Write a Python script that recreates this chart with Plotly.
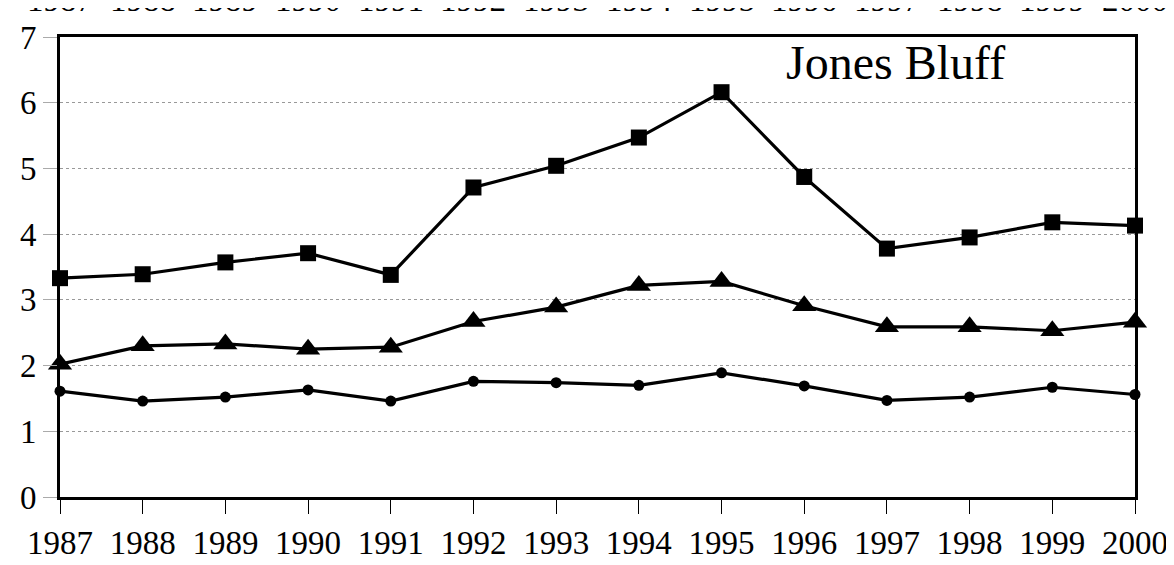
import plotly.graph_objects as go

years = [1987, 1988, 1989, 1990, 1991, 1992, 1993, 1994, 1995, 1996, 1997, 1998, 1999, 2000]
squares = [3.33, 3.39, 3.57, 3.71, 3.38, 4.71, 5.04, 5.47, 6.16, 4.87, 3.78, 3.95, 4.18, 4.13]
triangles = [2.02, 2.30, 2.33, 2.25, 2.28, 2.67, 2.89, 3.22, 3.28, 2.91, 2.59, 2.59, 2.53, 2.66]
circles = [1.61, 1.46, 1.52, 1.63, 1.46, 1.76, 1.74, 1.70, 1.89, 1.69, 1.47, 1.52, 1.67, 1.56]
y_ticks = [0, 1, 2, 3, 4, 5, 6, 7]
title_text = "Jones Bluff"

FONT = "Liberation Serif, Times New Roman, serif"

fig = go.Figure()
for vals, sym, size in [(squares, "square", 16), (triangles, "triangle-up", 21), (circles, "circle", 11)]:
    fig.add_trace(go.Scatter(
        x=years, y=vals, mode="lines+markers",
        line=dict(color="black", width=3.2),
        marker=dict(symbol=sym, size=size, color="black"),
        showlegend=False, cliponaxis=False,
    ))

# cut-off labels of the chart above (only bottom fringe visible)
for yr in years:
    fig.add_annotation(x=yr, y=1.036, xref="x", yref="paper", yanchor="bottom",
                       text=str(yr), showarrow=False, font=dict(family=FONT, size=33, color="black"))

fig.add_annotation(x=0.777, y=0.945, xref="paper", yref="paper", xanchor="center", yanchor="middle",
                   text=title_text, showarrow=False, font=dict(family=FONT, size=48, color="black"))

fig.update_xaxes(
    range=[1987, 2000], tickvals=years, ticktext=[str(y) for y in years],
    showgrid=False, zeroline=False,
    showline=True, linecolor="black", linewidth=3, mirror=True,
    ticks="outside", ticklen=14, tickwidth=1, tickcolor="black",
    tickfont=dict(family=FONT, size=33, color="black"),
)
fig.update_yaxes(
    range=[0, 7], tickvals=y_ticks,
    showgrid=True, gridcolor="#999999", gridwidth=1, griddash="dot",
    zeroline=False,
    showline=True, linecolor="black", linewidth=3, mirror=True,
    ticks="outside", ticklen=14, tickwidth=1, tickcolor="#aaaaaa",
    tickfont=dict(family=FONT, size=33, color="black"),
)
fig.update_layout(
    width=1174, height=565,
    margin=dict(l=52, r=47, t=21, b=60),
    paper_bgcolor="white", plot_bgcolor="white",
)
fig.write_html("out.html")
